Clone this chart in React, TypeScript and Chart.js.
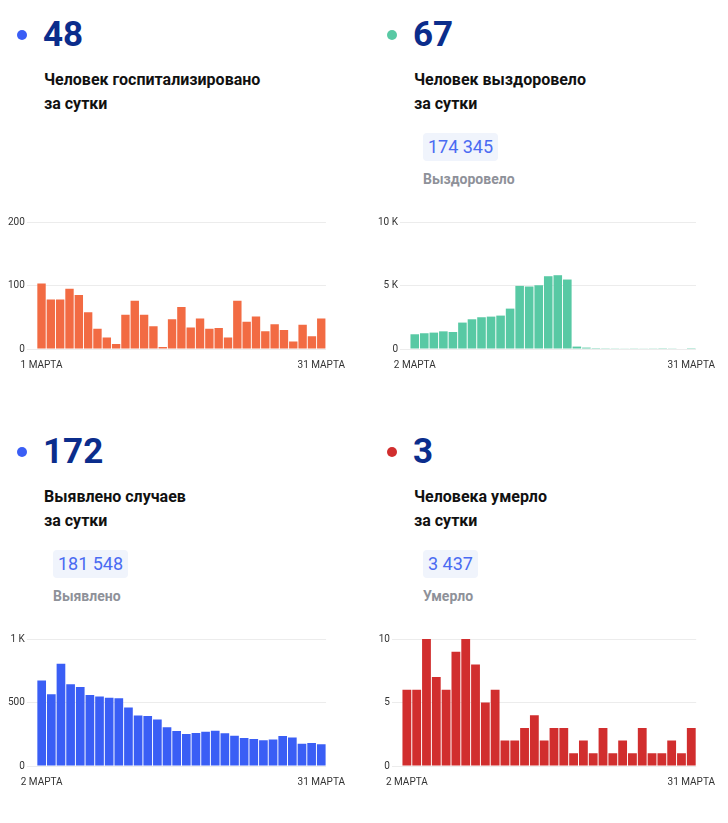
import React, { useEffect, useRef } from 'react';
import { Chart, registerables } from 'chart.js';

Chart.register(...registerables);

const marchLabels = [
  '1 МАРТА', '2 МАРТА', '3 МАРТА', '4 МАРТА', '5 МАРТА', '6 МАРТА', '7 МАРТА', '8 МАРТА',
  '9 МАРТА', '10 МАРТА', '11 МАРТА', '12 МАРТА', '13 МАРТА', '14 МАРТА', '15 МАРТА', '16 МАРТА',
  '17 МАРТА', '18 МАРТА', '19 МАРТА', '20 МАРТА', '21 МАРТА', '22 МАРТА', '23 МАРТА', '24 МАРТА',
  '25 МАРТА', '26 МАРТА', '27 МАРТА', '28 МАРТА', '29 МАРТА', '30 МАРТА', '31 МАРТА',
];
const marchFrom2Labels = marchLabels.slice(1);

const hospitalizedValues = [103, 78, 78, 95, 85, 58, 32, 18, 8, 54, 76, 54, 36, 3, 47, 66, 34, 48, 32, 33, 18, 76, 43, 51, 28, 39, 30, 12, 38, 20, 48];
const recoveredValues = [1160, 1240, 1290, 1390, 1340, 2080, 2340, 2500, 2550, 2630, 3180, 4970, 4920, 5020, 5730, 5810, 5470, 190, 110, 70, 60, 55, 50, 55, 50, 55, 15, 25, 40, 67];
const detectedValues = [673, 565, 806, 644, 623, 560, 547, 537, 534, 461, 398, 393, 367, 306, 275, 251, 259, 270, 278, 257, 238, 220, 212, 202, 209, 236, 225, 175, 181, 172];
const diedValues = [6, 6, 10, 7, 6, 9, 10, 8, 5, 6, 2, 2, 3, 4, 2, 3, 3, 1, 2, 1, 3, 1, 2, 1, 3, 1, 1, 2, 1, 3];

const hospitalizedTicks = ['0', '100', '200'];
const recoveredTicks = ['0', '5 K', '10 K'];
const detectedTicks = ['0', '500', '1 K'];
const diedTicks = ['0', '5', '10'];

const ORANGE = '#F26B43';
const GREEN = '#58C9A4';
const BLUE = '#3A5EF5';
const RED = '#D12E2E';
const NAVY = '#0B2D8C';

type BarProps = {
  labels: string[];
  values: number[];
  color: string;
  yMax: number;
  yTicks: string[];
};

function BarChart({ labels, values, color, yMax, yTicks }: BarProps) {
  const ref = useRef<HTMLCanvasElement>(null);
  useEffect(() => {
    const chart = new Chart(ref.current!, {
      type: 'bar',
      data: {
        labels,
        datasets: [
          {
            data: values,
            backgroundColor: color,
            borderWidth: 0,
            categoryPercentage: 1,
            barPercentage: 0.9,
          },
        ],
      },
      options: {
        animation: false,
        responsive: false,
        maintainAspectRatio: false,
        layout: { padding: 0 },
        plugins: { legend: { display: false }, tooltip: { enabled: false } },
        scales: {
          x: {
            grid: { display: false, drawTicks: false, tickLength: 0 },
            border: { display: false },
            ticks: {
              autoSkip: false,
              maxRotation: 0,
              padding: 10,
              color: '#333',
              font: { family: 'Roboto', size: 10 },
              callback: (_v: any, i: number) => (i === 0 || i === labels.length - 1 ? labels[i] : ''),
            },
          },
          y: {
            min: 0,
            max: yMax,
            grid: { color: '#ececec', tickLength: 10, drawTicks: true },
            border: { display: false },
            ticks: {
              stepSize: yMax / 2,
              padding: 2,
              color: '#333',
              font: { family: 'Roboto', size: 10 },
              callback: (_v: any, i: number) => yTicks[i],
            },
          },
        },
      },
    });
    return () => chart.destroy();
  }, []);
  return <canvas ref={ref} width={349} height={167} style={{ display: 'block' }} />;
}

type PanelProps = {
  ox: number;
  oy: number;
  dotColor: string;
  number: string;
  title: string[];
  badge?: string;
  badgeWidth?: number;
  badgeLabel?: string;
  chart: BarProps;
};

function Panel({ ox, oy, dotColor, number, title, badge, badgeWidth, badgeLabel, chart }: PanelProps) {
  return (
    <div style={{ position: 'absolute', left: ox, top: oy, width: 358, height: 400 }}>
      <div
        style={{
          position: 'absolute', left: 17, top: 30, width: 10, height: 10,
          borderRadius: '50%', background: dotColor,
        }}
      />
      <div
        style={{
          position: 'absolute', left: 43, top: 15, fontSize: 35, lineHeight: '40px',
          fontWeight: 700, color: NAVY, whiteSpace: 'nowrap',
        }}
      >
        {number}
      </div>
      <div
        style={{
          position: 'absolute', left: 44, top: 68, fontSize: 16, lineHeight: '24px',
          fontWeight: 700, color: '#111', whiteSpace: 'nowrap',
        }}
      >
        {title.map((t, i) => (
          <div key={i}>{t}</div>
        ))}
      </div>
      {badge && (
        <div
          style={{
            position: 'absolute', left: 53, top: 133, width: badgeWidth, height: 28,
            lineHeight: '28px', fontSize: 18, color: '#4A6BF2', background: '#F0F4FC',
            borderRadius: 4, textAlign: 'center', whiteSpace: 'nowrap',
          }}
        >
          {badge}
        </div>
      )}
      {badgeLabel && (
        <div
          style={{
            position: 'absolute', left: 53, top: 169, fontSize: 14, lineHeight: '20px',
            fontWeight: 700, color: '#8E9199', whiteSpace: 'nowrap',
          }}
        >
          {badgeLabel}
        </div>
      )}
      <div style={{ position: 'absolute', left: 6, top: 214 }}>
        <BarChart {...chart} />
      </div>
    </div>
  );
}

export default function App() {
  return (
    <div
      style={{
        position: 'absolute', left: 0, top: 0, width: 728, height: 823,
        background: '#fff', fontFamily: 'Roboto, sans-serif', overflow: 'hidden',
      }}
    >
      <Panel
        ox={0}
        oy={0}
        dotColor={BLUE}
        number="48"
        title={['Человек госпитализировано', 'за сутки']}
        chart={{ labels: marchLabels, values: hospitalizedValues, color: ORANGE, yMax: 200, yTicks: hospitalizedTicks }}
      />
      <Panel
        ox={370}
        oy={0}
        dotColor={GREEN}
        number="67"
        title={['Человек выздоровело', 'за сутки']}
        badge="174 345"
        badgeWidth={75}
        badgeLabel="Выздоровело"
        chart={{ labels: marchFrom2Labels, values: recoveredValues, color: GREEN, yMax: 10000, yTicks: recoveredTicks }}
      />
      <Panel
        ox={0}
        oy={417}
        dotColor={BLUE}
        number="172"
        title={['Выявлено случаев', 'за сутки']}
        badge="181 548"
        badgeWidth={75}
        badgeLabel="Выявлено"
        chart={{ labels: marchFrom2Labels, values: detectedValues, color: BLUE, yMax: 1000, yTicks: detectedTicks }}
      />
      <Panel
        ox={370}
        oy={417}
        dotColor={RED}
        number="3"
        title={['Человека умерло', 'за сутки']}
        badge="3 437"
        badgeWidth={55}
        badgeLabel="Умерло"
        chart={{ labels: marchFrom2Labels, values: diedValues, color: RED, yMax: 10, yTicks: diedTicks }}
      />
    </div>
  );
}
